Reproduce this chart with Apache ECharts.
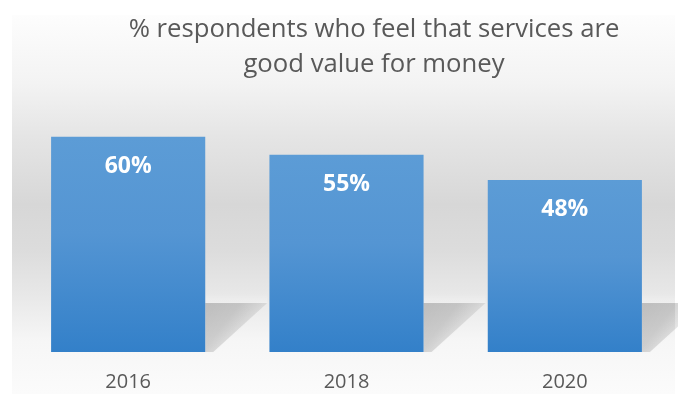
<!DOCTYPE html>
<html>
<head>
<meta charset="utf-8">
<title>Value for money</title>
<script src="https://cdn.jsdelivr.net/npm/echarts@6/dist/echarts.min.js"></script>
<style>
  html, body { margin: 0; padding: 0; background: #ffffff; }
  #chart { width: 678px; height: 394px; }
</style>
</head>
<body>
<div id="chart"></div>
<script>
// Survey years and share of respondents (%)
const years = ['2016', '2018', '2020'];
const goodValuePct = [60, 55, 48];
const titleLines = ['% respondents who feel that services are', 'good value for money'];

const BAR_RATIO = 0.706;
const FONT = '"Open Sans", "DejaVu Sans", sans-serif';

const chart = echarts.init(document.getElementById('chart'));

// Soft floor shadow cast to the right of each column
function renderShadow(params, api) {
  const top = api.coord([api.value(0), api.value(1)]);
  const base = api.coord([api.value(0), 0]);
  const band = api.size([1, 0])[0];
  const xR = top[0] + band * BAR_RATIO / 2;
  const yB = base[1];
  return {
    type: 'group',
    children: [
      {
        // faint lighter strip just above the shadow
        type: 'rect',
        shape: { x: xR, y: yB - 59, width: 62, height: 10 },
        style: {
          fill: new echarts.graphic.LinearGradient(0, 0, 0, 1, [
            { offset: 0, color: 'rgba(255,255,255,0)' },
            { offset: 1, color: 'rgba(255,255,255,0.25)' }
          ])
        }
      },
      {
        type: 'polygon',
        shape: {
          points: [[xR, yB - 49], [xR + 62, yB - 49], [xR + 8, yB], [xR, yB]]
        },
        style: {
          fill: new echarts.graphic.LinearGradient(0, 0, 1, 1, [
            { offset: 0, color: 'rgba(0,0,0,0.19)' },
            { offset: 0.35, color: 'rgba(0,0,0,0.16)' },
            { offset: 0.6, color: 'rgba(0,0,0,0.08)' },
            { offset: 0.8, color: 'rgba(0,0,0,0.02)' },
            { offset: 1, color: 'rgba(0,0,0,0)' }
          ]),
          shadowBlur: 6,
          shadowColor: 'rgba(0,0,0,0.06)'
        }
      }
    ]
  };
}

chart.setOption({
  animation: false,
  backgroundColor: '#ffffff',
  graphic: {
    elements: [{
      type: 'rect',
      z: -10,
      silent: true,
      shape: { x: 12, y: 15, width: 663, height: 379 },
      style: {
        fill: new echarts.graphic.LinearGradient(0, 0, 0, 1, [
          { offset: 0.0, color: '#fdfdfd' },
          { offset: 0.18, color: '#f3f3f3' },
          { offset: 0.32, color: '#e5e5e5' },
          { offset: 0.50, color: '#d7d7d7' },
          { offset: 0.62, color: '#dcdcdc' },
          { offset: 0.74, color: '#e8e8e8' },
          { offset: 0.86, color: '#f6f6f6' },
          { offset: 1.0, color: '#fbfbfb' }
        ])
      }
    }]
  },
  title: {
    text: titleLines.join('\n'),
    left: 369,
    top: 7,
    textAlign: 'center',
    textStyle: {
      fontFamily: FONT,
      fontSize: 25.7,
      fontWeight: 'normal',
      color: '#595959',
      lineHeight: 35
    }
  },
  grid: { left: 19, right: 4, top: 101, bottom: 42 },
  xAxis: {
    type: 'category',
    data: years,
    axisLine: { show: false },
    axisTick: { show: false },
    axisLabel: {
      margin: 20,
      fontFamily: FONT,
      fontSize: 20,
      color: '#595959'
    }
  },
  yAxis: {
    type: 'value',
    min: 0,
    max: 70,
    show: false,
    splitLine: { show: false }
  },
  series: [
    {
      type: 'custom',
      z: 1,
      silent: true,
      renderItem: renderShadow,
      data: years.map((y, i) => [i, goodValuePct[i]])
    },
    {
      type: 'bar',
      z: 3,
      barWidth: (BAR_RATIO * 100) + '%',
      data: goodValuePct,
      itemStyle: {
        color: new echarts.graphic.LinearGradient(0, 0, 0, 1, [
          { offset: 0, color: '#5c9cd6' },
          { offset: 0.45, color: '#5495d3' },
          { offset: 1, color: '#3380c9' }
        ])
      },
      label: {
        show: true,
        position: 'insideTop',
        distance: 18,
        formatter: '{c}%',
        fontFamily: FONT,
        fontSize: 23,
        fontWeight: 'bold',
        color: '#ffffff'
      }
    }
  ]
});
</script>
</body>
</html>
